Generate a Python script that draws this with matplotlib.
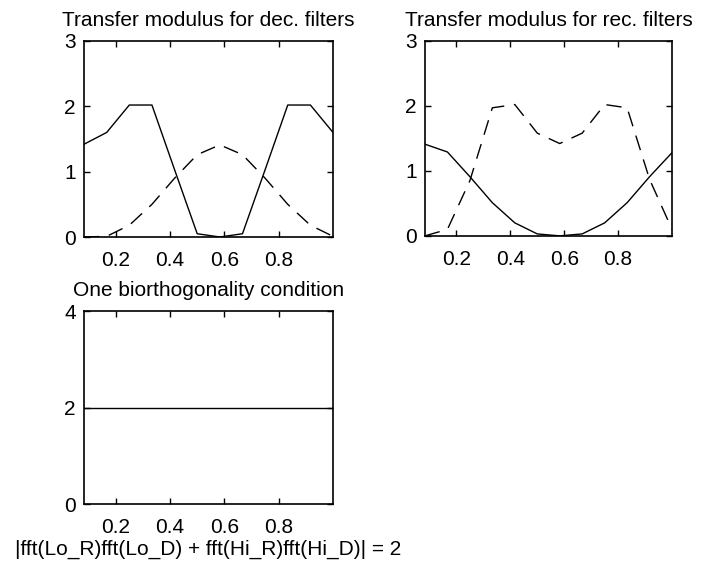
import numpy as np
import matplotlib
matplotlib.use("Agg")
import matplotlib.pyplot as plt

plt.rcParams['font.family'] = ['Liberation Sans', 'DejaVu Sans']
plt.rcParams['lines.scale_dashes'] = False

# frequencies: (1:12)/12
freq = np.arange(1, 13) / 12.0

# |fft(Lo_D)| and |fft(Hi_D)|
dec_lo = [1.42, 1.6, 2.02, 2.02, 1.03, 0.05, 0.0, 0.05, 1.03, 2.02, 2.02, 1.6]
dec_hi = [0.0, 0.01, 0.18, 0.5, 0.9, 1.26, 1.41, 1.26, 0.9, 0.5, 0.18, 0.01]

# |fft(Lo_R)| and |fft(Hi_R)|
rec_lo = [1.41, 1.29, 0.91, 0.51, 0.2, 0.03, 0.0, 0.03, 0.2, 0.51, 0.91, 1.28]
rec_hi = [0.0, 0.1, 0.85, 1.97, 2.02, 1.58, 1.42, 1.58, 2.02, 1.97, 0.87, 0.1]

# biorthogonality check
bio = [2.0] * 12

xticks = [0.2, 0.4, 0.6, 0.8]
xticklabels = ['0.2', '0.4', '0.6', '0.8']

fig = plt.figure(figsize=(7.02, 5.67), dpi=100)

dash = (0, (11, 7))
fs = 15


def style(ax, yticks):
    ax.set_xlim(freq[0], freq[-1])
    ax.set_xticks(xticks)
    ax.set_xticklabels(xticklabels)
    ax.set_yticks(yticks)
    ax.set_ylim(yticks[0], yticks[-1])
    ax.tick_params(direction='in', top=True, right=True, length=4,
                   width=1, labelsize=fs)
    ax.tick_params(axis='x', pad=10)
    ax.tick_params(axis='y', pad=6)
    for s in ax.spines.values():
        s.set_linewidth(1.2)


ax1 = fig.add_axes([0.1197, 0.582, 0.3547, 0.3457])
ax1.plot(freq, dec_lo, color='k', lw=1)
ax1.plot(freq, dec_hi, color='k', lw=1, linestyle=dash)
style(ax1, [0, 1, 2, 3])
ax1.set_title('Transfer modulus for dec. filters', fontsize=fs, pad=11)

ax2 = fig.add_axes([0.6054, 0.584, 0.3519, 0.3440])
ax2.plot(freq, rec_lo, color='k', lw=1)
ax2.plot(freq, rec_hi, color='k', lw=1, linestyle=dash)
style(ax2, [0, 1, 2, 3])
ax2.set_title('Transfer modulus for rec. filters', fontsize=fs, pad=11)

ax3 = fig.add_axes([0.1197, 0.111, 0.3547, 0.340])
ax3.plot(freq, bio, color='k', lw=1)
style(ax3, [0, 2, 4])
ax3.set_title('One biorthogonality condition', fontsize=fs, pad=11)
ax3.set_xlabel('|fft(Lo_R)fft(Lo_D) + fft(Hi_R)fft(Hi_D)| = 2', fontsize=fs,
               labelpad=2)

fig.savefig('out.png', dpi=100)
